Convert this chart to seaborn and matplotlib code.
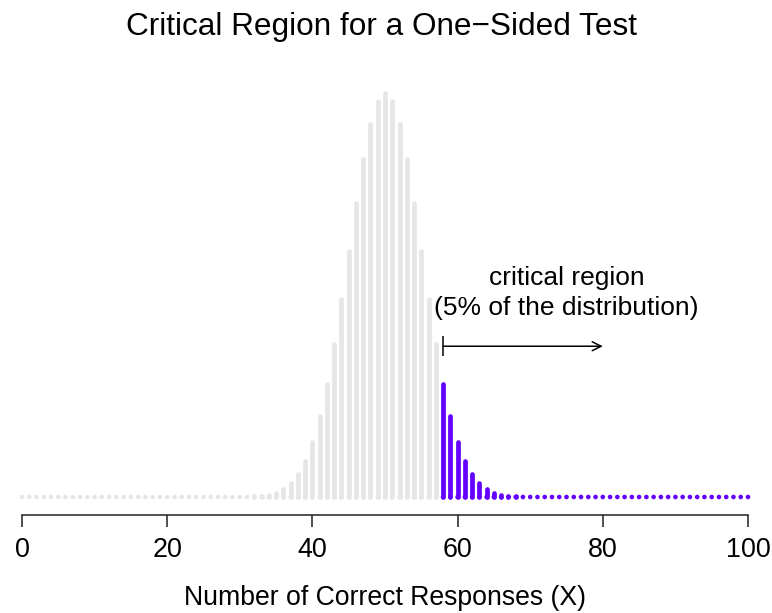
import matplotlib
matplotlib.use("Agg")
import matplotlib.pyplot as plt
import seaborn as sns
import pandas as pd

# Sampling distribution of X ~ Binomial(100, 0.5)
x_values = list(range(0, 101))
probabilities = [
    0.0, 0.0, 0.0, 0.0, 0.0, 0.0, 0.0, 0.0, 0.0, 0.0,
    0.0, 0.0, 0.0, 0.0, 0.0, 0.0, 0.0, 0.0, 0.0, 0.0,
    0.0, 0.0, 0.0, 0.0, 0.0, 0.0, 0.0, 0.0, 0.0, 0.0000098,
    0.0000232, 0.0000523, 0.000113, 0.000232, 0.000458, 0.000864, 0.001560, 0.002698, 0.004473, 0.007111,
    0.010844, 0.015869, 0.022292, 0.030069, 0.038952, 0.048474, 0.057958, 0.066590, 0.073527, 0.078029,
    0.079589,
    0.078029, 0.073527, 0.066590, 0.057958, 0.048474, 0.038952, 0.030069, 0.022292, 0.015869, 0.010844,
    0.007111, 0.004473, 0.002698, 0.001560, 0.000864, 0.000458, 0.000232, 0.000113, 0.0000523, 0.0000232,
    0.0000098, 0.0, 0.0, 0.0, 0.0, 0.0, 0.0, 0.0, 0.0, 0.0,
    0.0, 0.0, 0.0, 0.0, 0.0, 0.0, 0.0, 0.0, 0.0, 0.0,
    0.0, 0.0, 0.0, 0.0, 0.0, 0.0, 0.0, 0.0, 0.0, 0.0,
]
critical_value = 58
arrow_end = 80
x_ticks = [0, 20, 40, 60, 80, 100]

sns.set_theme(style="white")
plt.rcParams["font.family"] = ["Liberation Sans", "DejaVu Sans"]
plt.rcParams["text.color"] = "black"
plt.rcParams["axes.labelcolor"] = "black"
plt.rcParams["xtick.color"] = "black"

df = pd.DataFrame({"x": x_values, "p": probabilities})
df["region"] = ["critical" if x >= critical_value else "other" for x in x_values]

W, H = 772, 613
fig = plt.figure(figsize=(W / 100, H / 100), dpi=100)
ax_bottom, ax_top = 515, 80
ax = fig.add_axes([22 / W, (H - ax_bottom) / H, (748 - 22) / W, (ax_bottom - ax_top) / H])

px_per_unit = 404 / 0.079589
ax.set_xlim(0, 100)
ax.set_ylim(-18 / px_per_unit, (ax_bottom - ax_top - 18) / px_per_unit)

grey = "#e6e6e6"
purple = "#6300ff"
palette = {"other": grey, "critical": purple}
colors = [palette[r] for r in df["region"]]

# spikes with rounded ends, plus a round base so zero-height spikes still show
ax.vlines(df["x"], 0, df["p"], colors=colors, linewidth=3.4,
          capstyle="round", clip_on=False, zorder=2)
sns.scatterplot(data=df.assign(base=0.0), x="x", y="base", hue="region",
                palette=palette, s=11, linewidth=0, marker="o", legend=False,
                ax=ax, clip_on=False, zorder=3)

# critical region annotation: bar at the cut-off, then an open arrow
arrow_y = 0.0297
ax.annotate("", xy=(arrow_end, arrow_y), xytext=(critical_value, arrow_y),
            arrowprops=dict(arrowstyle="->", color="black", lw=1.1,
                            mutation_scale=16, shrinkA=0, shrinkB=0))
half = 10 / px_per_unit
ax.vlines([critical_value], arrow_y - half, arrow_y + half, colors="black", linewidth=1.1)
ax.text(75, 0.0402, "critical region\n(5% of the distribution)", ha="center",
        va="center", fontsize=19, linespacing=1.3, color="black")

sns.despine(ax=ax, left=True, top=True, right=True)
ax.spines["bottom"].set_color("#222222")
ax.spines["bottom"].set_linewidth(1.1)
ax.set_yticks([])
ax.set_xticks(x_ticks)
ax.tick_params(axis="x", direction="out", length=8.6, width=1.1, color="#222222",
               labelsize=19.4, pad=7, bottom=True)
ax.set_xlabel("Number of Correct Responses (X)", fontsize=19.2, labelpad=16)
ax.set_ylabel("")
fig.text(382 / W, 1 - 27 / H, "Critical Region for a One\u2212Sided Test",
         ha="center", va="center", fontsize=22.7)

fig.savefig("out.png", dpi=100)
